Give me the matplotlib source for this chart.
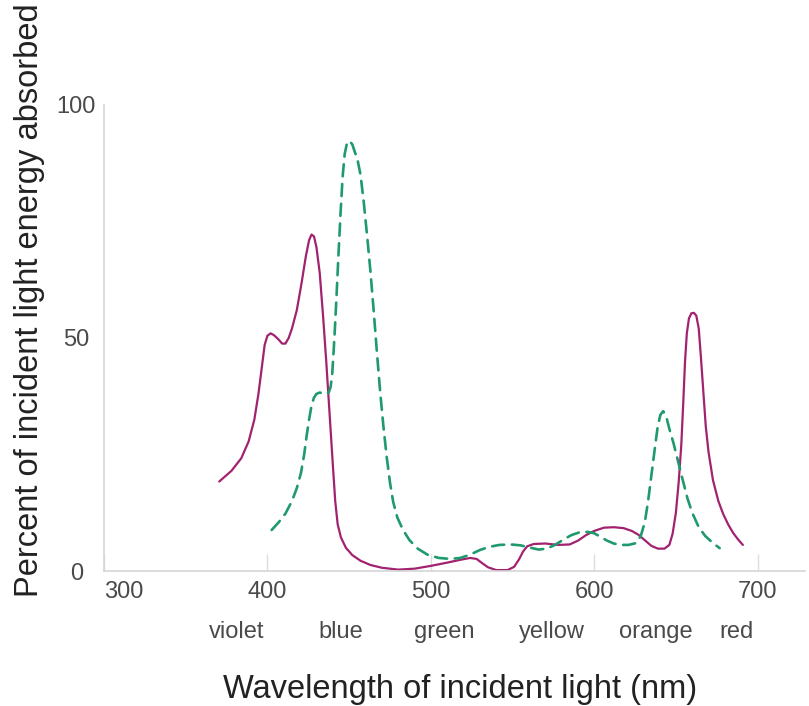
import matplotlib
matplotlib.use("Agg")
import matplotlib.pyplot as plt
import matplotlib.transforms as mtransforms

plt.rcParams['font.family'] = ['Liberation Sans', 'DejaVu Sans']

# Purple solid curve (wavelength nm, % absorbed)
purple_nm = [370.5, 378, 384, 388.5, 392, 394.5, 396.5, 398.3, 400, 402,
             404, 406.5, 409, 411, 413, 415, 418, 421, 423.5, 425.5,
             427, 428.5, 430, 432, 434, 436, 438, 440, 441.5, 443,
             445, 448, 452, 457, 463, 470, 480, 490, 500, 510,
             518, 524, 528, 531, 535, 540, 547, 551, 554, 556.5,
             559, 563, 570, 578, 585, 590, 595, 600, 606, 612,
             618, 623, 627, 631, 635, 639, 643, 646, 648, 650,
             651.7, 653.3, 654.5, 655.6, 656.7, 658, 659.5, 661, 662.5, 664,
             665.3, 666.7, 668.3, 670, 672.7, 676, 679, 682, 685, 688,
             691]
purple_val = [19.2, 21.5, 24.2, 27.8, 32.5, 38, 43.5, 48.5, 50.5, 51,
              50.6, 49.8, 48.8, 48.8, 50, 52, 56, 62, 67.5, 71,
              72.2, 71.8, 69.5, 64, 55, 45, 34, 23, 15, 10,
              7.2, 5.0, 3.4, 2.2, 1.3, 0.7, 0.3, 0.5, 1.1, 1.8,
              2.4, 2.8, 2.6, 1.8, 0.8, 0.2, 0.2, 0.9, 2.5, 4.2,
              5.3, 5.8, 5.9, 5.6, 5.7, 6.5, 7.7, 8.6, 9.3, 9.4,
              9.2, 8.6, 7.8, 6.6, 5.4, 4.8, 4.8, 5.6, 8, 12.5,
              19, 27, 36, 45, 51, 54.2, 55.3, 55.4, 54.8, 52,
              46, 39, 31, 25.5, 19.5, 15, 12.2, 10, 8.2, 6.8,
              5.6]

# Green dashed curve
green_nm = [402.6, 407, 411, 415, 418, 420.5, 422.5, 424, 425.5, 427,
            428.5, 430, 432, 434, 436, 437.5, 438.7, 439.7, 441, 442.3,
            443.5, 444.8, 446, 447.3, 448.7, 450.3, 452, 453.6, 455, 457,
            459, 461, 463, 465, 467, 469, 471, 473, 475, 477,
            479.5, 483, 487, 492, 498, 505, 512, 518, 524, 530,
            536, 542, 549, 555, 561, 566, 571, 576, 581, 586,
            591, 596, 600, 604, 608, 612, 616, 621, 625.8, 628.5,
            631, 633, 635, 637, 638.8, 640.5, 642.2, 644, 646, 648.5,
            651, 654, 657, 660, 664, 668, 672.7, 676.8]
green_val = [8.8, 10.5, 12.3, 15, 17.8, 21, 25, 29, 32.5, 35.5,
             37.2, 38, 38.3, 38.1, 38, 38.3, 39.5, 42.5, 50, 59,
             68, 77, 84.5, 89.5, 91.8, 92.3, 91.5, 89.8, 88.5, 85,
             79, 72, 64.5, 56, 47, 38.5, 31, 24.5, 19, 14.8,
             11.5, 8.8, 6.6, 4.8, 3.5, 2.8, 2.6, 2.8, 3.5, 4.5,
             5.2, 5.6, 5.7, 5.5, 5.0, 4.6, 4.8, 5.6, 6.7, 7.7,
             8.3, 8.4, 8.1, 7.3, 6.5, 5.9, 5.6, 5.6, 6.0, 7.5,
             10.5, 15, 20.5, 26, 30.8, 33.5, 34.3, 33.3, 30.5, 27.5,
             24, 19.8, 15.7, 12.5, 9.4, 7.5, 6.0, 4.9]

x_ticks = [300, 400, 500, 600, 700]
y_ticks = [0, 50, 100]
color_names = ['violet', 'blue', 'green', 'yellow', 'orange', 'red']
color_name_pos = [381, 445, 508, 574, 638, 687]

fig = plt.figure(figsize=(8.09, 7.06), dpi=100)
ax = fig.add_axes([0.1286, 0.1912, 0.8664, 0.6601])

ax.plot(purple_nm, purple_val, color='#a2226f', lw=1.6,
        solid_joinstyle='round', solid_capstyle='round')
ln, = ax.plot(green_nm, green_val, color='#1f9a6c', lw=1.9,
              dash_capstyle='round', dash_joinstyle='round')
ln.set_dashes([4.6, 2.9])

ax.set_xlim(300, 729)
ax.set_ylim(0, 100)

for s in ['top', 'right']:
    ax.spines[s].set_visible(False)
for s in ['left', 'bottom']:
    ax.spines[s].set_color('#d6d6d6')
    ax.spines[s].set_linewidth(1.2)

ax.set_xticks(x_ticks)
ax.set_xticklabels([str(t) for t in x_ticks])
ax.set_yticks(y_ticks)
ax.set_yticklabels([str(t) for t in y_ticks])
ax.tick_params(axis='x', direction='in', length=12, width=1.0, color='#dcdcdc',
               labelsize=17, labelcolor='#4a4a4a', pad=7)
ax.tick_params(axis='y', length=0, labelsize=17, labelcolor='#4a4a4a', pad=20)
for lab in ax.get_yticklabels():
    lab.set_horizontalalignment('center')
xlabs = ax.get_xticklabels()
xlabs[0].set_horizontalalignment('left')
xlabs[0].set_x(296)

trans = mtransforms.blended_transform_factory(ax.transData, fig.transFigure)
for name, pos in zip(color_names, color_name_pos):
    ax.text(pos, 0.105, name, transform=trans, ha='center', va='center',
            fontsize=17, color='#4a4a4a')

fig.text(0.569, 0.0227, 'Wavelength of incident light (nm)', ha='center',
         va='center', fontsize=23.5, color='#222222')
fig.text(0.037, 0.575, 'Percent of incident light energy absorbed', ha='center',
         va='center', rotation=90, fontsize=23.5, color='#222222')

fig.savefig('out.png', dpi=100, facecolor='white')
